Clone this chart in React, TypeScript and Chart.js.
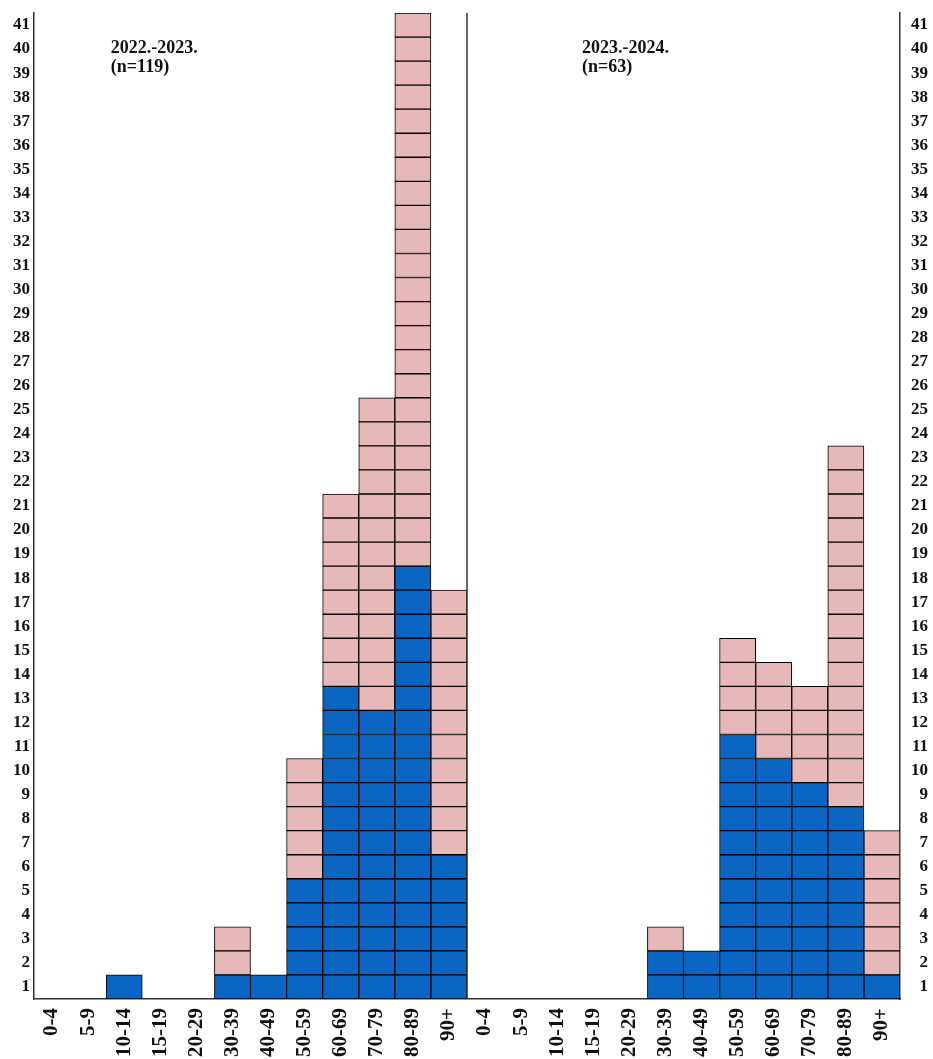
import React, { useEffect, useRef } from 'react';
import { Chart, registerables } from 'chart.js';

Chart.register(...registerables);

// ---- data ----
const ageGroups = ['0-4', '5-9', '10-14', '15-19', '20-29', '30-39', '40-49', '50-59', '60-69', '70-79', '80-89', '90+'];

const season1Title = '2022.-2023.';
const season1N = '(n=119)';
const season1Blue = [0, 0, 1, 0, 0, 1, 1, 5, 13, 12, 18, 6];
const season1Total = [0, 0, 1, 0, 0, 3, 1, 10, 21, 25, 41, 17];

const season2Title = '2023.-2024.';
const season2N = '(n=63)';
const season2Blue = [0, 0, 0, 0, 0, 2, 2, 11, 10, 9, 8, 1];
const season2Total = [0, 0, 0, 0, 0, 3, 2, 15, 14, 13, 23, 7];

const yTickLabels = [
  1, 2, 3, 4, 5, 6, 7, 8, 9, 10, 11, 12, 13, 14, 15, 16, 17, 18, 19, 20, 21,
  22, 23, 24, 25, 26, 27, 28, 29, 30, 31, 32, 33, 34, 35, 36, 37, 38, 39, 40, 41,
];

// ---- styles ----
const BLUE = '#0A66C2';
const PINK = '#E6B8B7';
const CELL_BORDER = '#000000';
const AXIS = '#333333';
const FONT = "'Liberation Serif', 'Times New Roman', serif";

export default function App() {
  const canvasRef = useRef<HTMLCanvasElement>(null);

  useEffect(() => {
    const canvas = canvasRef.current;
    if (!canvas) return;

    const labels = [...ageGroups, ...ageGroups];
    const blue = [...season1Blue, ...season2Blue];
    const total = [...season1Total, ...season2Total];
    const maxLevel = yTickLabels.length;

    const datasets: any[] = [];
    for (let k = 1; k <= maxLevel; k++) {
      datasets.push({
        label: 'level ' + k,
        data: total.map((t) => (t >= k ? 1 : null)),
        backgroundColor: blue.map((b) => (k <= b ? BLUE : PINK)),
        borderColor: CELL_BORDER,
        borderWidth: 1,
        borderSkipped: false,
        categoryPercentage: 1,
        barPercentage: 1,
        stack: 'cells',
      });
    }

    const setYTicks = (scale: any) => {
      scale.ticks = yTickLabels.map((v) => ({ value: v - 0.5 }));
    };
    const noPad = (s: any) => {
      s.paddingTop = 0;
      s.paddingBottom = 0;
      s.paddingLeft = 0;
      s.paddingRight = 0;
    };

    const overlay = {
      id: 'overlay',
      afterDraw(chart: any) {
        const { ctx, chartArea, scales } = chart;
        const xs = scales.x;
        const w = (chartArea.right - chartArea.left) / labels.length;
        ctx.save();
        // divider between seasons
        const dx = xs.getPixelForValue(ageGroups.length - 1) + w / 2;
        ctx.strokeStyle = AXIS;
        ctx.lineWidth = 1.5;
        ctx.beginPath();
        ctx.moveTo(dx, chartArea.top);
        ctx.lineTo(dx, chartArea.bottom);
        ctx.stroke();
        // season titles
        ctx.fillStyle = '#111';
        ctx.font = `bold 18px ${FONT}`;
        ctx.textAlign = 'left';
        ctx.textBaseline = 'alphabetic';
        const t1x = chartArea.left + 2.13 * w;
        const t2x = chartArea.left + 15.19 * w;
        ctx.fillText(season1Title, t1x, chartArea.top + 40);
        ctx.fillText(season1N, t1x, chartArea.top + 59);
        ctx.fillText(season2Title, t2x, chartArea.top + 40);
        ctx.fillText(season2N, t2x, chartArea.top + 59);
        ctx.restore();
      },
    };

    const chart = new Chart(canvas, {
      type: 'bar',
      data: { labels, datasets },
      options: {
        responsive: false,
        animation: false,
        layout: { padding: { top: 13, left: 0, right: 5, bottom: 0 } },
        plugins: {
          legend: { display: false },
          tooltip: { enabled: false },
        },
        scales: {
          x: {
            type: 'category',
            stacked: true,
            grid: { display: false, drawTicks: false },
            border: { display: true, color: AXIS, width: 1.5 },
            ticks: {
              autoSkip: false,
              maxRotation: 90,
              minRotation: 90,
              padding: 9,
              color: '#111',
              font: { family: FONT, size: 21, weight: 'bold' },
            },
            afterFit: (s: any) => {
              s.height = 60;
              noPad(s);
            },
          },
          y: {
            type: 'linear',
            position: 'left',
            stacked: true,
            min: 0,
            max: 41,
            grid: { display: false, drawTicks: false },
            border: { display: true, color: AXIS, width: 1.5 },
            afterBuildTicks: setYTicks,
            ticks: {
              autoSkip: false,
              padding: 4,
              color: '#111',
              font: { family: FONT, size: 17, weight: 'bold' },
              callback: (_v: any, i: number) => String(yTickLabels[i]),
            },
            afterFit: (s: any) => {
              s.width = 34;
              noPad(s);
            },
          },
          yRight: {
            type: 'linear',
            position: 'right',
            min: 0,
            max: 41,
            grid: { display: false, drawTicks: false },
            border: { display: true, color: AXIS, width: 1.5 },
            afterBuildTicks: setYTicks,
            ticks: {
              autoSkip: false,
              padding: 4,
              crossAlign: 'far',
              color: '#111',
              font: { family: FONT, size: 17, weight: 'bold' },
              callback: (_v: any, i: number) => String(yTickLabels[i]),
            },
            afterFit: (s: any) => {
              s.width = 28;
              noPad(s);
            },
          },
        },
      } as any,
      plugins: [overlay],
    });

    return () => chart.destroy();
  }, []);

  return (
    <div style={{ position: 'absolute', left: 0, top: 0, width: 933, height: 1059, background: '#fff' }}>
      <canvas ref={canvasRef} width={933} height={1059} style={{ display: 'block' }} />
    </div>
  );
}
